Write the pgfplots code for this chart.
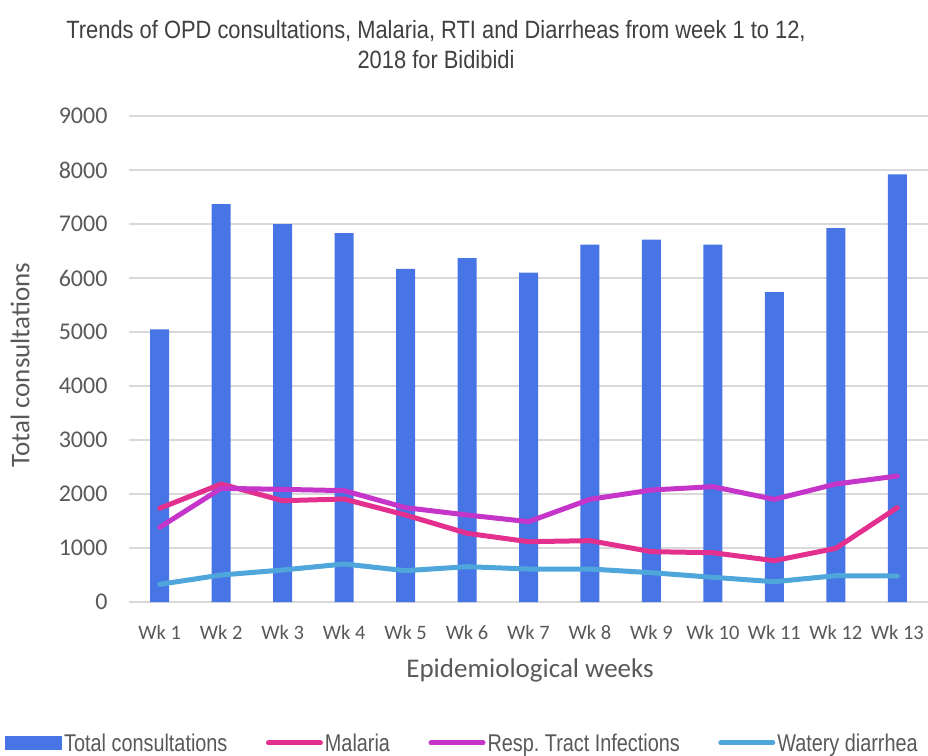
\documentclass[border=0pt]{standalone}
\usepackage{pgfplots}
\pgfplotsset{compat=1.18}
\usepackage{fontspec}
\setmainfont{Carlito}
\newfontfamily\narrowfont{Liberation Sans}[FakeStretch=0.82]
\newfontfamily\titlefont{Liberation Sans}[FakeStretch=0.875]
\newfontfamily\calfont{Carlito}
\frenchspacing
\definecolor{barblue}{HTML}{4775E5}
\definecolor{malpink}{HTML}{E3308F}
\definecolor{rtipurple}{HTML}{C535C9}
\definecolor{watblue}{HTML}{4EA6DB}
\definecolor{gridgray}{HTML}{D9D9D9}
\definecolor{txtgray}{HTML}{595959}
\definecolor{titlegray}{HTML}{404040}
\begin{document}
\begin{tikzpicture}[x=1pt,y=1pt]
\useasboundingbox (0,0) rectangle (928,755);
\node[font=\titlefont\fontsize{25}{30}\selectfont, text=titlegray, align=center] at (436,710) {Trends of OPD consultations, Malaria, RTI and Diarrheas from week 1 to 12,\\2018 for Bidibidi};
\begin{axis}[
  at={(129pt,153pt)}, anchor=south west,
  scale only axis, width=799pt, height=486pt,
  xmin=-0.5, xmax=12.5, ymin=0, ymax=9000,
  ytick={0,1000,...,9000},
  xtick={0,...,12},
  xticklabels={Wk 1,Wk 2,Wk 3,Wk 4,Wk 5,Wk 6,Wk 7,Wk 8,Wk 9,Wk 10,Wk 11,Wk 12,Wk 13},
  /pgf/number format/assume math mode=true,
  /pgf/number format/1000 sep={},
  ymajorgrids, grid style={gridgray, line width=1.5pt},
  axis line style={draw=none},
  major tick length=0pt,
  yticklabel style={font=\calfont\fontsize{24}{26}\selectfont, text=txtgray, xshift=-18pt},
  xticklabel style={font=\calfont\fontsize{20.5}{22}\selectfont, text=txtgray, yshift=-20pt},
  xlabel={Epidemiological weeks},
  ylabel={Total consultations},
  label style={font=\calfont\fontsize{27}{29}\selectfont, text=txtgray},
  xlabel style={at={(axis description cs:0.502,-0.14)}, anchor=center},
  ylabel style={at={(axis description cs:-0.1364,0.4877)}, anchor=center},
  legend columns=4,
  legend style={at={(axis description cs:-0.1552,-0.2901)}, anchor=west, draw=none, inner sep=0pt,
    font=\narrowfont\fontsize{24.2}{26}\selectfont, text=txtgray,
    /tikz/every even column/.append style={column sep=36.5pt}},
  legend cell align=left,
]
\addplot[ybar, bar width=19pt, fill=barblue, draw=none,
  legend image code/.code={\fill[barblue] (0pt,-7pt) rectangle (57pt,7pt);}]
  coordinates {(0,5050) (1,7370) (2,7000) (3,6830) (4,6170) (5,6370) (6,6100) (7,6620) (8,6710) (9,6620) (10,5740) (11,6925) (12,7920)};
\addlegendentry{Total consultations}
\addplot[malpink, line width=5pt, line join=round, line cap=round,
  legend image code/.code={\draw[malpink, line width=5pt, line cap=round] (2.5pt,0) -- (54.5pt,0);}]
  coordinates {(0,1735) (1,2185) (2,1876) (3,1907) (4,1611) (5,1272) (6,1117) (7,1136) (8,932) (9,913) (10,765) (11,994) (12,1747)};
\addlegendentry{Malaria}
\addplot[rtipurple, line width=5pt, line join=round, line cap=round,
  legend image code/.code={\draw[rtipurple, line width=5pt, line cap=round] (2.5pt,0) -- (54.5pt,0);}]
  coordinates {(0,1383) (1,2105) (2,2086) (3,2062) (4,1747) (5,1611) (6,1488) (7,1901) (8,2074) (9,2136) (10,1901) (11,2185) (12,2333)};
\addlegendentry{Resp. Tract Infections}
\addplot[watblue, line width=5pt, line join=round, line cap=round,
  legend image code/.code={\draw[watblue, line width=5pt, line cap=round] (2.5pt,0) -- (54.5pt,0);}]
  coordinates {(0,327) (1,500) (2,593) (3,704) (4,580) (5,654) (6,611) (7,611) (8,543) (9,457) (10,376) (11,487) (12,481)};
\addlegendentry{Watery diarrhea}
\end{axis}
\end{tikzpicture}
\end{document}
